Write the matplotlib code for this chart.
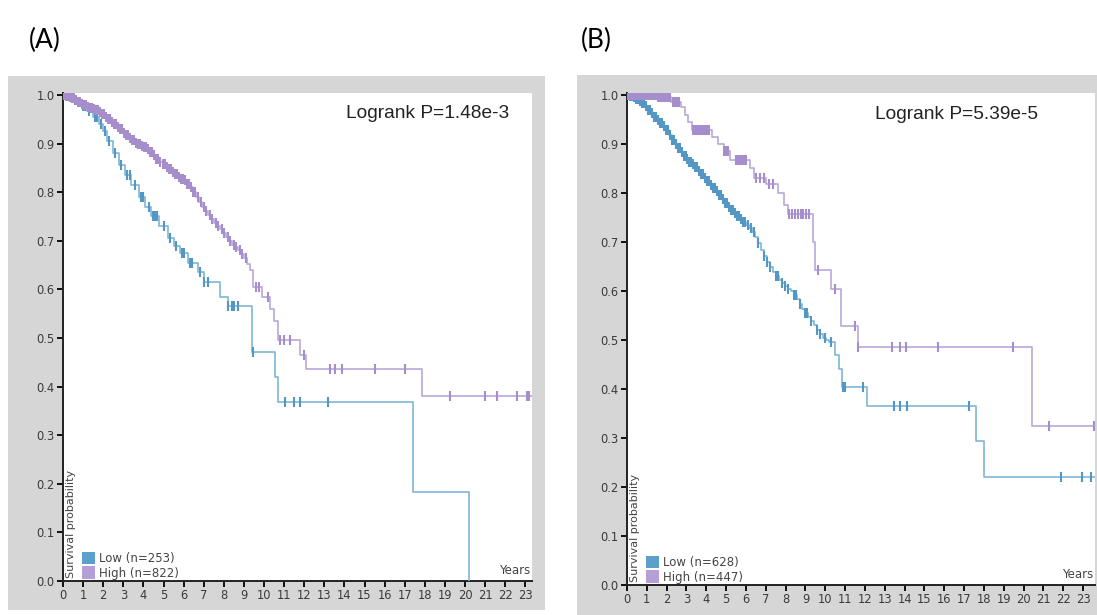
"""
Kaplan-Meier survival curves, two panels (A) and (B), KM-plotter style.
"""

import numpy as np
import matplotlib
matplotlib.use("Agg")
import matplotlib.pyplot as plt
from matplotlib.patches import Rectangle, Patch

# ---- panel A data ----
a_low_t = [0, 0.5, 0.9, 1.2, 1.5, 1.8, 2.0, 2.2, 2.5, 2.8, 3.1, 3.4, 3.8, 4.1, 4.4,
           4.8, 5.2, 5.5, 5.8, 6.2, 6.7, 7.0, 7.8, 8.2, 9.4, 10.55, 10.7, 17.4, 20.2]
a_low_s = [1.0, 0.99, 0.978, 0.966, 0.955, 0.94, 0.925, 0.905, 0.88, 0.855, 0.835, 0.815,
           0.79, 0.77, 0.75, 0.73, 0.705, 0.69, 0.675, 0.655, 0.635, 0.615, 0.585, 0.565,
           0.472, 0.42, 0.369, 0.184, 0.0]
a_low_cens = [0.3, 0.6, 1.0, 1.1, 1.3, 1.6, 1.7, 1.9, 2.1, 2.3, 2.6, 2.9, 3.2, 3.35, 3.6,
              3.9, 4.0, 4.3, 4.5, 4.6, 4.7, 5.0, 5.3, 5.6, 5.9, 6.0, 6.3, 6.4, 6.8, 7.0,
              7.2, 8.2, 8.4, 8.5, 8.7, 9.45, 11.05, 11.5, 11.8, 13.2]

a_high_t = [0, 0.15, 0.3, 0.45, 0.6, 0.75, 0.9, 1.05, 1.2, 1.35, 1.5, 1.65, 1.8, 1.95, 2.1,
            2.25, 2.4, 2.55, 2.7, 2.85, 3.0, 3.15, 3.3, 3.45, 3.6, 3.75, 3.9, 4.05, 4.2,
            4.35, 4.5, 4.65, 4.8, 4.95, 5.1, 5.25, 5.4, 5.55, 5.7, 5.85, 6.0, 6.15, 6.3,
            6.45, 6.6, 6.75, 6.9, 7.05, 7.2, 7.35, 7.5, 7.65, 7.8, 7.95, 8.1, 8.25, 8.4,
            8.55, 8.7, 8.85, 9.0, 9.15, 9.3, 9.45, 9.9, 10.3, 10.5, 10.7, 11.8, 12.1, 17.85]
a_high_s = [1.0, 0.998, 0.995, 0.993, 0.99, 0.986, 0.982, 0.979, 0.976, 0.974, 0.972, 0.969,
            0.965, 0.96, 0.955, 0.95, 0.945, 0.94, 0.935, 0.929, 0.922, 0.917, 0.912, 0.907,
            0.902, 0.899, 0.895, 0.892, 0.888, 0.882, 0.876, 0.869, 0.862, 0.857, 0.852,
            0.847, 0.842, 0.837, 0.832, 0.828, 0.824, 0.817, 0.81, 0.8, 0.79, 0.78, 0.77,
            0.761, 0.752, 0.745, 0.737, 0.731, 0.725, 0.716, 0.708, 0.7, 0.692, 0.687,
            0.682, 0.673, 0.664, 0.652, 0.64, 0.605, 0.585, 0.56, 0.535, 0.495, 0.465,
            0.436, 0.381]
a_high_cens = [0.05, 0.15, 0.25, 0.35, 0.45, 0.55, 0.65, 0.75, 0.85, 0.95, 1.05, 1.15,
               1.25, 1.35, 1.45, 1.55, 1.65, 1.75, 1.85, 1.95, 2.05, 2.15, 2.25, 2.35,
               2.45, 2.55, 2.65, 2.75, 2.85, 2.95, 3.05, 3.15, 3.25, 3.35, 3.45, 3.55,
               3.65, 3.75, 3.85, 3.95, 4.05, 4.15, 4.25, 4.35, 4.45, 4.55, 4.65, 4.75,
               4.85, 4.95, 5.05, 5.15, 5.25, 5.35, 5.45, 5.55, 5.65, 5.75, 5.85, 5.95,
               6.05, 6.15, 6.25, 6.35, 6.45, 6.55, 6.7, 6.85, 7.0, 7.1, 7.3, 7.4, 7.6,
               7.7, 7.9, 8.0, 8.2, 8.3, 8.5, 8.6, 8.8, 8.9, 9.1, 9.6, 9.75, 10.2, 10.8,
               11.0, 11.3, 12.0, 13.3, 13.55, 13.9, 15.5, 17.0, 19.25, 21.0, 21.6, 22.6,
               23.1, 23.2]

# ---- panel B data ----
b_low_t = [0, 0.15, 0.3, 0.45, 0.6, 0.75, 0.9, 1.05, 1.2, 1.35, 1.5, 1.65, 1.8, 1.95, 2.1,
           2.25, 2.4, 2.55, 2.7, 2.85, 3.0, 3.15, 3.3, 3.45, 3.6, 3.75, 3.9, 4.05, 4.2,
           4.35, 4.5, 4.65, 4.8, 4.95, 5.1, 5.25, 5.4, 5.55, 5.7, 5.85, 6.0, 6.15, 6.3,
           6.45, 6.6, 6.75, 6.9, 7.05, 7.2, 7.35, 7.5, 7.65, 7.8, 7.95, 8.1, 8.25, 8.4,
           8.55, 8.7, 8.85, 9.0, 9.15, 9.3, 9.45, 9.6, 9.75, 9.9, 10.05, 10.2, 10.5, 10.7,
           10.85, 12.1, 17.6, 18.0]
b_low_s = [1.0, 0.998, 0.995, 0.992, 0.988, 0.983, 0.977, 0.97, 0.963, 0.955, 0.949, 0.942,
           0.936, 0.928, 0.919, 0.909, 0.9, 0.891, 0.883, 0.875, 0.869, 0.864, 0.859,
           0.852, 0.845, 0.838, 0.831, 0.824, 0.817, 0.81, 0.803, 0.795, 0.787, 0.779,
           0.772, 0.766, 0.759, 0.753, 0.747, 0.741, 0.735, 0.728, 0.72, 0.71, 0.698,
           0.684, 0.671, 0.659, 0.648, 0.638, 0.63, 0.623, 0.617, 0.611, 0.605, 0.599,
           0.592, 0.583, 0.573, 0.563, 0.555, 0.547, 0.539, 0.53, 0.521, 0.512, 0.505,
           0.5, 0.495, 0.47, 0.44, 0.404, 0.365, 0.294, 0.221]
b_low_cens = [0.05, 0.15, 0.25, 0.35, 0.45, 0.55, 0.65, 0.75, 0.85, 0.95, 1.05, 1.15,
              1.25, 1.35, 1.45, 1.55, 1.65, 1.75, 1.85, 1.95, 2.05, 2.15, 2.25, 2.35,
              2.45, 2.55, 2.65, 2.75, 2.85, 2.95, 3.05, 3.15, 3.25, 3.35, 3.45, 3.55,
              3.65, 3.75, 3.85, 3.95, 4.05, 4.15, 4.25, 4.35, 4.45, 4.55, 4.65, 4.75,
              4.85, 4.95, 5.05, 5.15, 5.25, 5.35, 5.45, 5.55, 5.65, 5.75, 5.85, 5.95,
              6.1, 6.25, 6.4, 6.6, 6.9, 7.05, 7.2, 7.5, 7.6, 7.8, 7.95, 8.1, 8.4, 8.5,
              8.7, 9.0, 9.1, 9.3, 9.6, 9.75, 10.0, 10.3, 10.9, 11.0, 11.9, 13.45, 13.77,
              14.1, 17.25, 21.9, 22.95, 23.4]

b_high_t = [0, 1.5, 2.2, 2.7, 2.9, 3.1, 3.3, 4.3, 4.6, 4.9, 5.2, 6.2, 6.4, 7.0, 7.6, 7.9,
            8.1, 9.4, 9.5, 10.3, 10.8, 11.65, 20.4]
b_high_s = [1.0, 0.995, 0.986, 0.976, 0.96, 0.945, 0.928, 0.915, 0.9, 0.885, 0.868, 0.85,
            0.83, 0.818, 0.8, 0.775, 0.757, 0.70, 0.643, 0.605, 0.528, 0.486, 0.324]
b_high_cens = [0.05, 0.15, 0.25, 0.35, 0.45, 0.55, 0.65, 0.75, 0.85, 0.95, 1.05, 1.15,
               1.25, 1.35, 1.45, 1.55, 1.65, 1.75, 1.85, 1.95, 2.05, 2.15, 2.3, 2.4,
               2.5, 2.6, 3.35, 3.45, 3.55, 3.65, 3.75, 3.85, 3.95, 4.05, 4.15, 4.9, 5.0,
               5.1, 5.5, 5.6, 5.7, 5.8, 5.9, 6.0, 6.5, 6.7, 6.9, 7.15, 7.35, 8.15, 8.3,
               8.45, 8.6, 8.75, 8.9, 9.05, 9.2, 9.65, 10.5, 11.5, 11.65, 13.35, 13.77,
               14.07, 15.7, 19.45, 21.3, 23.55]

panels = [
    dict(tag="(A)", p="Logrank P=1.48e-3", px=0.778, n_low=253, n_high=822,
         low=(a_low_t, a_low_s, a_low_cens, 20.2), high=(a_high_t, a_high_s, a_high_cens, 23.33),
         rect=[63 / 1097, 34 / 615, 469 / 1097, 488 / 615], xmax=23.33, ymax=1.004,
         box=[8 / 1097, 5 / 615, 537 / 1097, 534 / 615], tagx=45 / 1097),
    dict(tag="(B)", p="Logrank P=5.39e-5", px=0.705, n_low=628, n_high=447,
         low=(b_low_t, b_low_s, b_low_cens, 23.6), high=(b_high_t, b_high_s, b_high_cens, 23.6),
         rect=[627 / 1097, 30 / 615, 468 / 1097, 492 / 615], xmax=23.6, ymax=1.004,
         box=[577 / 1097, 0, 520 / 1097, 540 / 615], tagx=596 / 1097),
]

LOW_LINE, LOW_MARK, LOW_BOX = "#7fb6d6", "#5597c4", "#5c9fca"
HIGH_LINE, HIGH_MARK, HIGH_BOX = "#b9a8dc", "#a68ecd", "#b69ed9"
BOX_GRAY = "#d6d6d6"

plt.rcParams["font.family"] = ["DejaVu Sans"]


def draw_curve(ax, t, s, cens, end, line_c, mark_c):
    t = np.asarray(t, float)
    s = np.asarray(s, float)
    tt = np.append(t, end) if end > t[-1] else t
    ss = np.append(s, s[-1]) if end > t[-1] else s
    ax.step(tt, ss, where="post", color=line_c, lw=1.2, zorder=3)
    c = np.asarray(cens, float)
    idx = np.searchsorted(t, c, side="right") - 1
    ax.plot(c, s[idx], ls="none", marker="|", ms=7, mew=1.5, color=mark_c, zorder=4)


fig = plt.figure(figsize=(10.97, 6.15), dpi=100)
for pn in panels:
    fig.patches.append(Rectangle((pn["box"][0], pn["box"][1]), pn["box"][2], pn["box"][3],
                                 transform=fig.transFigure, facecolor=BOX_GRAY,
                                 edgecolor="none", zorder=-5))
    ax = fig.add_axes(pn["rect"])
    ax.set_zorder(2)
    ax.set_facecolor("white")
    draw_curve(ax, *pn["low"], LOW_LINE, LOW_MARK)
    draw_curve(ax, *pn["high"], HIGH_LINE, HIGH_MARK)

    ax.set_xlim(0, pn["xmax"])
    ax.set_ylim(0, pn["ymax"])
    ax.set_xticks(range(0, 24))
    ax.set_yticks(np.arange(0, 11) / 10)
    ax.set_yticklabels([f"{v / 10:.1f}" for v in range(11)])
    ax.tick_params(direction="out", length=4, width=1.3, labelsize=8.3, pad=2,
                   colors="black", labelcolor="#3a3a3a")
    for sp in ("top", "right"):
        ax.spines[sp].set_visible(False)
    for sp in ("left", "bottom"):
        ax.spines[sp].set_linewidth(1.4)
        ax.spines[sp].set_color("#222222")

    ax.text(pn["px"], 0.957, pn["p"], transform=ax.transAxes, ha="center", va="center",
            fontsize=13.8, color="#222222", family=["Liberation Sans", "DejaVu Sans"])
    ax.text(0.997, 0.008, "Years", transform=ax.transAxes, ha="right", va="bottom",
            fontsize=8.5, color="#444444")
    ax.text(0.006, 0.006, "Survival probability", transform=ax.transAxes, rotation=90,
            ha="left", va="bottom", fontsize=8, color="#444444")
    handles = [Patch(facecolor=LOW_BOX, edgecolor="none", label=f"Low (n={pn['n_low']})"),
               Patch(facecolor=HIGH_BOX, edgecolor="none", label=f"High (n={pn['n_high']})")]
    leg = ax.legend(handles=handles, loc="lower left", bbox_to_anchor=(0.04, 0.003),
                    frameon=False, fontsize=8.5, handlelength=1.1, handleheight=1.3,
                    handletextpad=0.35, labelspacing=0.1, borderpad=0, borderaxespad=0)
    for txt in leg.get_texts():
        txt.set_color("#444444")

    fig.text(pn["tagx"], 1 - 40 / 615, pn["tag"], ha="center", va="center",
             fontsize=19, family=["Lato", "DejaVu Sans"], color="black")

fig.savefig("out.png", dpi=100)
